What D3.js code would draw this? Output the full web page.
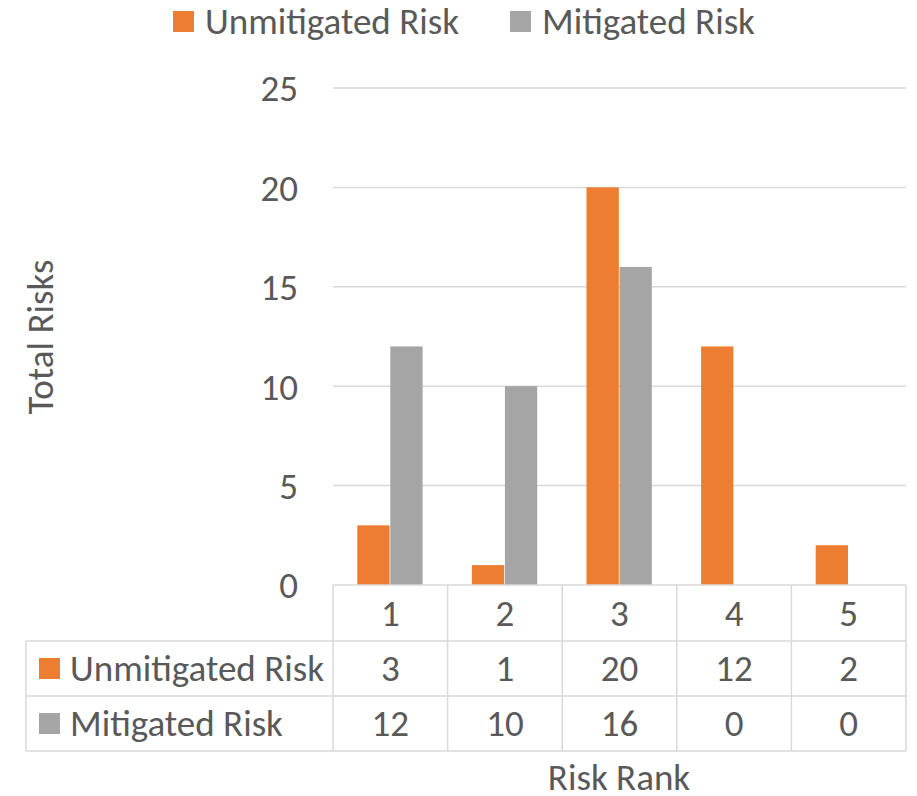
<!DOCTYPE html>
<html><head><meta charset="utf-8">
<script src="https://cdn.jsdelivr.net/npm/d3@7"></script>
<style>
body{margin:0;background:#fff;}
text{font-family:Carlito,Calibri,"Liberation Sans Narrow","Open Sans",sans-serif;fill:#595959;}
</style></head>
<body><svg id="c" width="917" height="796"></svg>
<script>
const categories = ["1","2","3","4","5"];
const seriesNames = ["Unmitigated Risk","Mitigated Risk"];
const unmitigated = [3,1,20,12,2];
const mitigated = [12,10,16,0,0];
const yTicks = [0,5,10,15,20,25];
const colors = ["#ED7D31","#A5A5A5"];
const values = [unmitigated, mitigated];

const svg = d3.select("#c");
const pL = 333, pR = 906, pT = 88, pB = 585;
const fs = 37;

const x = d3.scaleBand().domain(categories).range([pL,pR]).paddingInner(0).paddingOuter(0);
const x1 = d3.scaleBand().domain(seriesNames).range([0,x.bandwidth()]).paddingInner(0).paddingOuter(0.736);
const y = d3.scaleLinear().domain([0,25]).range([pB,pT]);

// gridlines
svg.append("g").selectAll("line").data(yTicks.filter(d=>d>0)).join("line")
  .attr("x1",pL).attr("x2",pR).attr("y1",d=>y(d)).attr("y2",d=>y(d))
  .attr("stroke","#d9d9d9").attr("stroke-width",1.5);

// y axis labels
const yAxis = d3.axisLeft(y).tickValues(yTicks).tickSize(0).tickPadding(35);
const ga = svg.append("g").attr("transform",`translate(${pL},0)`).call(yAxis);
ga.select(".domain").remove();
ga.attr("font-family",null).attr("font-size",null);
ga.selectAll("text").attr("font-size",fs).attr("fill","#595959").attr("dy","0.35em");

// bars
seriesNames.forEach((s,i)=>{
  svg.append("g").selectAll("rect").data(categories).join("rect")
    .attr("x",c=>x(c)+x1(s)).attr("width",x1.bandwidth()-0.7)
    .attr("y",(c,j)=>y(values[i][j])).attr("height",(c,j)=>pB-y(values[i][j]))
    .attr("fill",colors[i]);
});

// table
const rowLines = [pB, 641, 696, 751];
const tg = svg.append("g").attr("stroke","#d9d9d9").attr("stroke-width",1.5);
tg.append("line").attr("x1",pL).attr("x2",pR).attr("y1",pB).attr("y2",pB);
[1,2,3].forEach(k=>{
  tg.append("line").attr("x1",26).attr("x2",pR).attr("y1",rowLines[k]).attr("y2",rowLines[k]);
});
tg.append("line").attr("x1",26).attr("x2",26).attr("y1",rowLines[1]).attr("y2",rowLines[3]);
categories.concat(["end"]).forEach(c=>{
  const xx = c==="end"? pR : x(c);
  tg.append("line").attr("x1",xx).attr("x2",xx).attr("y1",pB).attr("y2",rowLines[3]);
});
// header
svg.append("g").selectAll("text").data(categories).join("text")
  .attr("x",c=>x(c)+x.bandwidth()/2).attr("y",(rowLines[0]+rowLines[1])/2).attr("dy","0.35em")
  .attr("text-anchor","middle").attr("font-size",fs).text(c=>c);
seriesNames.forEach((s,i)=>{
  const cy = (rowLines[i+1]+rowLines[i+2])/2;
  svg.append("rect").attr("x",39).attr("y",cy-10.5).attr("width",21).attr("height",21).attr("fill",colors[i]);
  svg.append("text").attr("x",70).attr("y",cy).attr("dy","0.35em").attr("font-size",fs).text(s);
  svg.append("g").selectAll("text").data(categories).join("text")
    .attr("x",c=>x(c)+x.bandwidth()/2).attr("y",cy).attr("dy","0.35em")
    .attr("text-anchor","middle").attr("font-size",fs).text((c,j)=>values[i][j]);
});

// legend
const legX = [173, 510];
seriesNames.forEach((s,i)=>{
  svg.append("rect").attr("x",legX[i]).attr("y",11).attr("width",21).attr("height",21).attr("fill",colors[i]);
  svg.append("text").attr("x",legX[i]+32).attr("y",21.5).attr("dy","0.35em").attr("font-size",fs).text(s);
});

// axis titles
svg.append("text").attr("transform","translate(40,337) rotate(-90)").attr("text-anchor","middle")
  .attr("dy","0.35em").attr("font-size",fs).text("Total Risks");
svg.append("text").attr("x",619).attr("y",777).attr("text-anchor","middle")
  .attr("dy","0.35em").attr("font-size",fs).text("Risk Rank");
</script></body></html>
